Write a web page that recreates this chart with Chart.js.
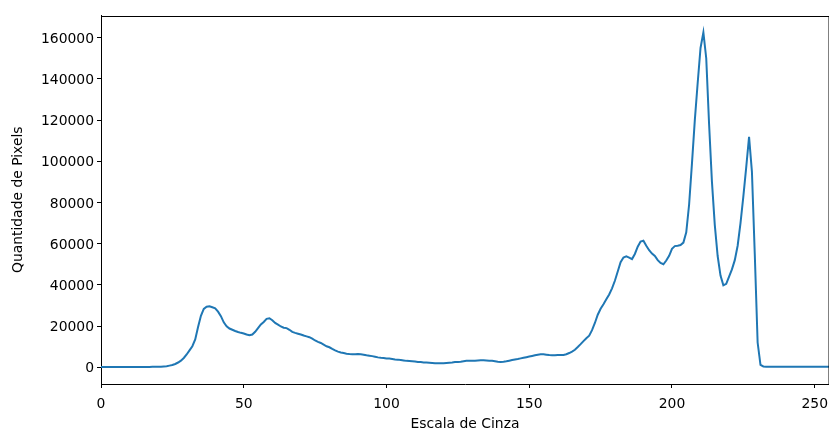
<!DOCTYPE html>
<html>
<head>
<meta charset="utf-8">
<script src="https://cdn.jsdelivr.net/npm/chart.js@4.4.1/dist/chart.umd.min.js"></script>
<style>
  html, body { margin: 0; padding: 0; background: #fff; }
  #wrap { width: 829px; height: 430px; }
</style>
</head>
<body>
<div id="wrap"><canvas id="histograma" width="829" height="430"></canvas></div>
<script>
// histograma de tons de cinza
const niveisDeCinza = [];
for (let i = 0; i < 256; i++) niveisDeCinza.push(i);

const quantidadePixels = [
  // 0 - 19
  150, 150, 150, 150, 150, 150, 150, 150, 150, 150,
  150, 150, 150, 150, 150, 160, 170, 180, 200, 220,
  // 20 - 39
  250, 300, 400, 500, 800, 1100, 1600, 2300, 3200, 4500,
  6200, 8200, 10200, 13500, 19500, 25000, 28300, 29400, 29600, 29100,
  // 40 - 59
  28600, 27000, 24800, 21800, 19900, 18800, 18200, 17600, 17100, 16700,
  16400, 15900, 15500, 15900, 17200, 19000, 20800, 22000, 23500, 23800,
  // 60 - 79
  22800, 21500, 20700, 19800, 19200, 19000, 18200, 17200, 16700, 16300,
  15900, 15400, 15000, 14600, 13900, 13000, 12300, 11800, 11000, 10200,
  // 80 - 99
  9700, 8900, 8200, 7600, 7200, 6900, 6600, 6400, 6300, 6300,
  6400, 6300, 6100, 5800, 5600, 5400, 5100, 4800, 4600, 4500,
  // 100 - 119
  4300, 4200, 4000, 3800, 3700, 3500, 3300, 3100, 3000, 2900,
  2800, 2600, 2500, 2300, 2300, 2200, 2100, 2000, 2000, 1950,
  // 120 - 139
  2000, 2100, 2200, 2300, 2500, 2600, 2700, 2900, 3100, 3100,
  3200, 3200, 3300, 3400, 3400, 3300, 3200, 3100, 2900, 2700,
  // 140 - 159
  2600, 2700, 2900, 3200, 3500, 3800, 4000, 4300, 4600, 4900,
  5200, 5500, 5800, 6100, 6300, 6300, 6100, 5900, 5800, 5800,
  // 160 - 179
  5900, 5900, 6000, 6300, 6900, 7600, 8500, 9800, 11200, 12700,
  14100, 15300, 18000, 21500, 25500, 28400, 30600, 33000, 35300, 38300,
  // 180 - 199
  42000, 46500, 51000, 53300, 53800, 53200, 52500, 55000, 58500, 61000,
  61400, 59000, 56800, 55200, 54000, 52000, 50600, 50000, 51800, 54100,
  // 200 - 219
  57500, 58800, 59000, 59300, 60500, 65500, 79000, 99000, 120000, 138000,
  155000, 162600, 150000, 118000, 90000, 69000, 54000, 44500, 39800, 40500,
  // 220 - 239
  44000, 47500, 52000, 59000, 70000, 83000, 97000, 111900, 95000, 55000,
  12000, 1200, 400, 300, 300, 300, 300, 300, 300, 300,
  // 240 - 255
  300, 300, 300, 300, 300, 300, 300, 300, 300, 300,
  300, 300, 300, 300, 300, 300
];

const ticksX = [0, 50, 100, 150, 200, 250];
const ticksY = [0, 20000, 40000, 60000, 80000, 100000, 120000, 140000, 160000];

const fonte = { family: 'DejaVu Sans', size: 13.9 };

// moldura (spines de cima e da direita)
const moldura = {
  id: 'moldura',
  afterDraw(chart) {
    const { ctx, chartArea } = chart;
    ctx.save();
    ctx.strokeStyle = '#000';
    ctx.lineWidth = 1;
    ctx.beginPath();
    ctx.moveTo(chartArea.left, Math.round(chartArea.top) + 0.5);
    ctx.lineTo(chartArea.right, Math.round(chartArea.top) + 0.5);
    ctx.lineTo(chartArea.right, chartArea.bottom);
    ctx.stroke();
    ctx.restore();
  }
};

new Chart(document.getElementById('histograma').getContext('2d'), {
  type: 'line',
  data: {
    datasets: [{
      data: niveisDeCinza.map((x, i) => ({ x: x, y: quantidadePixels[i] })),
      borderColor: '#1f77b4',
      borderWidth: 2,
      pointRadius: 0,
      tension: 0,
      fill: false
    }]
  },
  options: {
    responsive: false,
    animation: false,
    layout: { padding: { left: 0, right: -1, top: 15.5, bottom: 0 } },
    plugins: {
      legend: { display: false },
      tooltip: { enabled: false }
    },
    scales: {
      x: {
        type: 'linear',
        min: 0,
        max: 255,
        afterBuildTicks: (s) => { s.ticks = ticksX.map(v => ({ value: v })); },
        afterFit: (s) => { s.height = 46; s.paddingLeft = 0; s.paddingRight = 0; },
        grid: { drawOnChartArea: false, drawTicks: true, tickLength: 4, color: '#000' },
        border: { color: '#000', width: 1 },
        ticks: { color: '#000', font: fonte, padding: 8, maxRotation: 0 },
        title: { display: true, text: 'Escala de Cinza', color: '#000', font: fonte, padding: { top: 0, bottom: -2.5 } }
      },
      y: {
        min: -8130,
        max: 170760,
        afterBuildTicks: (s) => { s.ticks = ticksY.map(v => ({ value: v })); },
        afterFit: (s) => { s.width = 101; s.paddingTop = 0; s.paddingBottom = 0; },
        grid: { drawOnChartArea: false, drawTicks: true, tickLength: 4, color: '#000' },
        border: { color: '#000', width: 1 },
        ticks: { color: '#000', font: fonte, padding: 3, labelOffset: 1.5, callback: (v) => String(v) },
        title: { display: true, text: 'Quantidade de Pixels', color: '#000', font: fonte, padding: { top: 10, bottom: 0 } }
      }
    }
  },
  plugins: [moldura]
});
</script>
</body>
</html>
